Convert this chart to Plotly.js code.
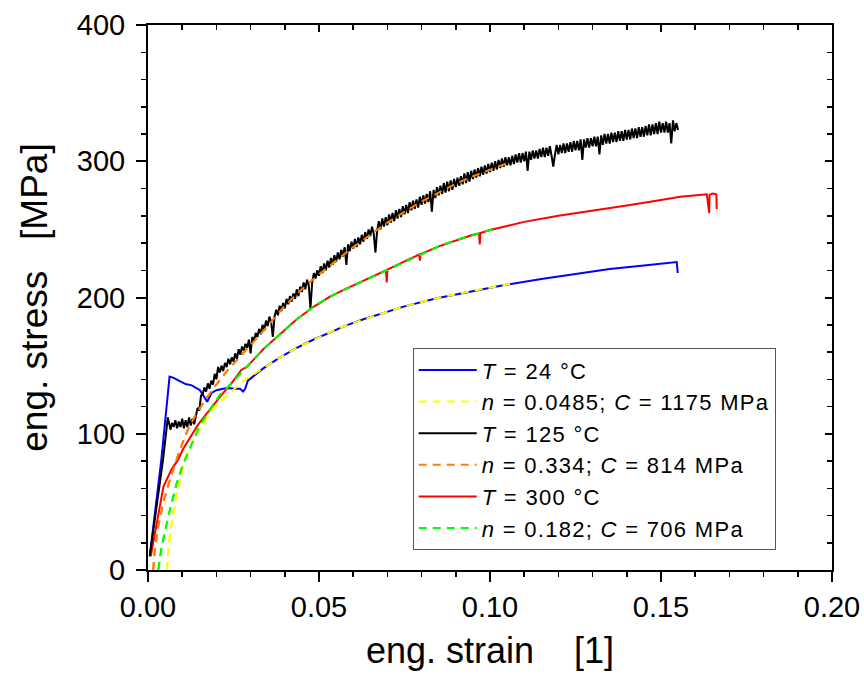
<!DOCTYPE html>
<html>
<head>
<meta charset="utf-8">
<script src="https://cdn.plot.ly/plotly-3.0.1.min.js"></script>
<style>
html,body{margin:0;padding:0;background:#fff;}
#chart{width:864px;height:675px;}
.legendtext{letter-spacing:1.3px;}
</style>
</head>
<body>
<div id="chart"></div>
<script>
// ---- data ----
// T = 24 °C (blue)
const blueX = [0.0006,0.0039,0.0063,0.0075,0.009,0.011,0.0128,0.014,0.0152,0.0162,0.0173,0.018,0.0186,0.020,0.023,0.0255,0.0269,0.0278,0.0284,0.0292,0.0337,0.0386,0.0435,0.0483,0.0532,0.058,0.063,0.068,0.075,0.0844,0.0942,0.1039,0.115,0.125,0.135,0.145,0.1546,0.1549];
const blueY = [12,81,142,141,139,136.5,135.5,134,132,128,123.5,127,130,132,133.5,133,133,131,133,139,148,156,163,169,174.5,179.5,184,188,193.5,199.5,204.5,209,213.5,217.5,221,223.5,226,218];

// n = 0.0485; C = 1175 MPa (yellow, dashed)
const yellowX = [0.0055,0.0065,0.008,0.0095,0.011,0.0135,0.0165,0.020,0.024,0.028,0.0337,0.0386,0.0435,0.0483,0.0532,0.058,0.063,0.068,0.075,0.0844,0.0942,0.1039,0.106];
const yellowY = [0,28,50,68,83,97,109,121,130,139,148,156,163,169,174.5,179.5,184,188,193.5,199.5,204.5,209,210];

// T = 125 °C (black, noisy record)
const blackX = [0.0005,0.0044,0.0058,0.0062,0.0066,0.007,0.0075,0.008,0.0085,0.009,0.0095,0.010,0.0105,0.011,0.0115,0.012,0.0125,0.013,0.0135,0.014,0.0145,0.015,0.0155,
0.0160,0.0165,0.0170,0.0175,0.0180,0.0185,0.0190,0.0195,0.0200,0.0205,0.0210,0.0215,0.0220,0.0225,0.0230,0.0235,0.0240,0.0245,0.0250,0.0255,
0.0260,0.0265,0.0270,0.0275,0.0280,0.0285,0.0290,0.0295,0.0300,0.0305,0.0310,0.0315,0.0320,0.0325,0.0330,0.0335,0.0340,0.0345,0.0350,0.0355,
0.0360,0.0365,0.0370,0.0375,0.0380,0.0385,0.0390,0.0395,0.0400,0.0405,0.0410,0.0415,0.0420,0.0425,0.0430,0.0435,0.0440,0.0445,0.0450,0.0455,
0.0460,0.0465,0.0470,0.0475,0.0480,0.0485,0.0490,0.0495,0.0500,0.0505,0.0510,0.0515,0.0520,0.0525,0.0530,0.0535,0.0540,0.0545,0.0550,0.0555,
0.0560,0.0565,0.0570,0.0575,0.0580,0.0585,0.0590,0.0595,0.0600,0.0605,0.0610,0.0615,0.0620,0.0625,0.0630,0.0635,0.0640,0.0645,0.0650,0.0655,
0.0660,0.0665,0.0670,0.0675,0.0680,0.0685,0.0690,0.0695,0.0700,0.0705,0.0710,0.0715,0.0720,0.0725,0.0730,0.0735,0.0740,0.0745,0.0750,0.0755,
0.0760,0.0765,0.0770,0.0775,0.0780,0.0785,0.0790,0.0795,0.0800,0.0805,0.0810,0.0815,0.0820,0.0825,0.0830,0.0835,0.0840,0.0845,0.0850,0.0855,
0.0860,0.0865,0.0870,0.0875,0.0880,0.0885,0.0890,0.0895,0.0900,0.0905,0.0910,0.0915,0.0920,0.0925,0.0930,0.0935,0.0940,0.0945,0.0950,0.0955,
0.0960,0.0965,0.0970,0.0975,0.0980,0.0985,0.0990,0.0995,0.1000,0.1005,0.1010,0.1015,0.1020,0.1025,0.1030,0.1035,0.1040,0.1045,0.1050,0.1055,
0.1060,0.1065,0.1070,0.1075,0.1080,0.1085,0.1090,0.1095,0.1100,0.1105,0.1110,0.1115,0.1120,0.1125,0.1130,0.1135,0.1140,0.1145,0.1150,0.1155,
0.1160,0.1165,0.1170,0.1175,0.1180,0.1185,0.1190,0.1195,0.1200,0.1205,0.1210,0.1215,0.1220,0.1225,0.1230,0.1235,0.1240,0.1245,0.1250,0.1255,
0.1260,0.1265,0.1270,0.1275,0.1280,0.1285,0.1290,0.1295,0.1300,0.1305,0.1310,0.1315,0.1320,0.1325,0.1330,0.1335,0.1340,0.1345,0.1350,0.1355,
0.1360,0.1365,0.1370,0.1375,0.1380,0.1385,0.1390,0.1395,0.1400,0.1405,0.1410,0.1415,0.1420,0.1425,0.1430,0.1435,0.1440,0.1445,0.1450,0.1455,
0.1460,0.1465,0.1470,0.1475,0.1480,0.1485,0.1490,0.1495,0.1500,0.1505,0.1510,0.1515,0.1520,0.1525,0.1530,0.1535,0.1540,0.1545,0.1550];
const blackY = [10,81,112,106,103,108,105,110,104,109,105,111,104,110,105,112,106,111,107,113,119,117,128,
129,134,131,137,133,139,136,144,140,149,145,150,146,152,149,155,151,156,153,159,
155,162,158,164,161,166,163,169,159,171,168,174,171,177,173,180,176,183,179,186,
182,171,186,191,187,194,190,196,192,199,195,201,197,203,199,206,201,208,204,211,
206,213,209,192,211,218,214,220,216,223,218,225,220,227,222,229,224,231,226,233,
228,235,230,237,224,239,234,241,236,243,237,244,239,246,241,248,243,250,245,252,
247,233,249,256,250,258,252,259,253,261,255,262,256,264,258,265,259,267,261,268,
262,270,264,271,265,272,266,274,268,275,269,276,270,278,263,279,273,281,275,282,
276,284,277,285,278,286,279,287,281,288,282,289,283,291,284,292,285,293,287,294,
288,295,289,296,290,297,291,298,292,299,293,300,294,301,295,302,296,303,297,303,
297,304,298,305,299,306,299,306,300,307,293,307,301,308,302,308,302,309,303,310,
303,310,304,311,304,296,305,312,305,312,306,313,306,313,307,314,307,315,308,315,
308,316,301,316,310,317,310,317,311,318,311,318,305,319,312,320,313,320,313,321,
314,321,314,322,315,322,315,323,316,323,316,324,317,324,317,325,318,325,318,326,
319,327,319,327,320,328,320,329,321,328,321,329,321,328,313,330,322,328,323];

// n = 0.334; C = 814 MPa (orange, dashed)
const orangeX = [0.0015,0.002,0.003,0.0045,0.006,0.0075,0.009,0.0105,0.012,0.014,0.016,0.0195,0.0234,0.026,0.030,0.035,0.040,0.045,0.050,0.055,0.060,0.065,0.070,0.075,0.080,0.085,0.090,0.095,0.100,0.105];
const orangeY = [0,15,32,50,63,75,86,96,105,114,122,134.5,147,154,165,179,194,206,217,227,237,246,255,263,270.5,277,283.5,289,294,298.5];

// T = 300 °C (red)
const redX = [0.0008,0.0025,0.0045,0.0069,0.0088,0.0103,0.0125,0.0146,0.0171,0.0195,0.0218,0.0244,0.0273,0.0289,0.0337,0.0386,0.0435,0.0483,0.0532,0.058,0.065,0.0696,0.0698,0.0700,0.075,0.0793,0.0795,0.0797,0.085,0.090,0.095,0.0968,0.0970,0.0972,0.100,0.105,0.110,0.120,0.130,0.140,0.150,0.1556,0.1634,0.1641,0.1642,0.1652,0.1662,0.1663];
const redY = [10,34,61,74,81,89,98,106.5,114.5,122.3,129.5,137,146.8,149,162,173,184,193,200.6,206.5,214.5,220,211,220.5,226.5,231.5,227,231.8,237.5,242,246,247,239,247.3,249.5,252.5,255.5,260,263.5,267.5,271.5,274,275.7,262,275.5,276.3,275.7,265];

// n = 0.182; C = 706 MPa (green, dashed)
const greenX = [0.003,0.004,0.0059,0.0084,0.0103,0.0128,0.0152,0.0181,0.021,0.024,0.0289,0.0337,0.0386,0.0435,0.0483,0.0532,0.058,0.065,0.070,0.075,0.080,0.085,0.090,0.095,0.100,0.101];
const greenY = [0,17,39,63.6,78,93,106.4,117.4,128.4,136,149,162,173,184,193,200.6,206.5,214.5,220.5,226.5,232,237.5,242,246,249.5,250];

const legendNames = [
  '<i>T</i> = 24 °C',
  '<i>n</i> = 0.0485; <i>C</i> = 1175 MPa',
  '<i>T</i> = 125 °C',
  '<i>n</i> = 0.334; <i>C</i> = 814 MPa',
  '<i>T</i> = 300 °C',
  '<i>n</i> = 0.182; <i>C</i> = 706 MPa'
];

const xTitle = 'eng. strain\u00a0\u00a0\u00a0\u00a0[1]';
const yTitle = 'eng. stress\u00a0\u00a0\u00a0[MPa]';

// ---- traces ----
const dash = '8px,6px';
const traces = [
  {x: yellowX, y: yellowY, name: legendNames[1], mode: 'lines', line: {color: '#FFFF00', width: 2, dash: dash}, legendrank: 2},
  {x: greenX, y: greenY, name: legendNames[5], mode: 'lines', line: {color: '#00FF00', width: 2, dash: dash}, legendrank: 6},
  {x: orangeX, y: orangeY, name: legendNames[3], mode: 'lines', line: {color: '#FF8000', width: 2, dash: dash}, legendrank: 4},
  {x: blueX, y: blueY, name: legendNames[0], mode: 'lines', line: {color: '#0000FF', width: 2}, legendrank: 1},
  {x: redX, y: redY, name: legendNames[4], mode: 'lines', line: {color: '#FF0000', width: 2}, legendrank: 5},
  {x: blackX, y: blackY, name: legendNames[2], mode: 'lines', line: {color: '#000000', width: 2}, legendrank: 3},
  {x: [null], y: [null], xaxis: 'x2', yaxis: 'y2', showlegend: false, hoverinfo: 'skip', mode: 'lines'}
];
// dashed fits drawn again on top of the measured curves
const overlay = [
  {x: yellowX, y: yellowY, mode: 'lines', line: {color: '#FFFF00', width: 2, dash: dash}, showlegend: false, hoverinfo: 'skip'},
  {x: greenX, y: greenY, mode: 'lines', line: {color: '#00FF00', width: 2, dash: dash}, showlegend: false, hoverinfo: 'skip'},
  {x: orangeX, y: orangeY, mode: 'lines', line: {color: '#FF8000', width: 2, dash: dash}, showlegend: false, hoverinfo: 'skip'}
];

const font = 'Liberation Sans, Arial, sans-serif';
const axisCommon = {
  showgrid: false, zeroline: false, showline: true, linecolor: '#000', linewidth: 2,
  ticks: 'outside', ticklen: 10, tickwidth: 2, tickcolor: '#000',
  tickfont: {family: font, size: 29, color: '#000'}
};

const layout = {
  width: 864, height: 675,
  margin: {l: 148, r: 32, t: 25, b: 105},
  paper_bgcolor: '#fff', plot_bgcolor: '#fff',
  font: {family: font, color: '#000'},
  showlegend: true,
  legend: {
    x: 0.387, y: 0.407, xanchor: 'left', yanchor: 'top',
    bgcolor: '#fff', bordercolor: '#555', borderwidth: 1,
    font: {family: font, size: 22, color: '#000'},
    itemwidth: 58, tracegroupgap: 0, traceorder: 'normal'
  },
  xaxis: Object.assign({}, axisCommon, {
    range: [0, 0.2], dtick: 0.05, tick0: 0, tickformat: '.2f',
    minor: {dtick: 0.01, ticks: 'outside', ticklen: 5, tickwidth: 1.5, tickcolor: '#000'},
    title: {text: xTitle, font: {family: font, size: 36, color: '#000'}, standoff: 16},
    automargin: false
  }),
  yaxis: Object.assign({}, axisCommon, {
    range: [0, 400], dtick: 100, tick0: 0, ticklabelstandoff: 5,
    minor: {dtick: 20, ticks: 'outside', ticklen: 5, tickwidth: 1.5, tickcolor: '#000'},
    title: {text: yTitle, font: {family: font, size: 37, color: '#000'}, standoff: 18},
    automargin: false
  }),
  xaxis2: {
    overlaying: 'x', side: 'top', anchor: 'y2', range: [0, 0.2], dtick: 0.05, tick0: 0,
    showgrid: false, zeroline: false, showline: true, linecolor: '#000', linewidth: 2,
    ticks: 'inside', ticklen: 7, tickwidth: 2, tickcolor: '#000', showticklabels: false,
    minor: {dtick: 0.01, ticks: 'inside', ticklen: 5, tickwidth: 1.5, tickcolor: '#000'}
  },
  yaxis2: {
    overlaying: 'y', side: 'right', anchor: 'x2', range: [0, 400], dtick: 100, tick0: 0,
    showgrid: false, zeroline: false, showline: true, linecolor: '#000', linewidth: 2,
    ticks: 'inside', ticklen: 7, tickwidth: 2, tickcolor: '#000', showticklabels: false,
    minor: {dtick: 20, ticks: 'inside', ticklen: 5, tickwidth: 1.5, tickcolor: '#000'}
  }
};

Plotly.newPlot('chart', traces.concat(overlay), layout, {displayModeBar: false, staticPlot: true});
</script>
</body>
</html>
